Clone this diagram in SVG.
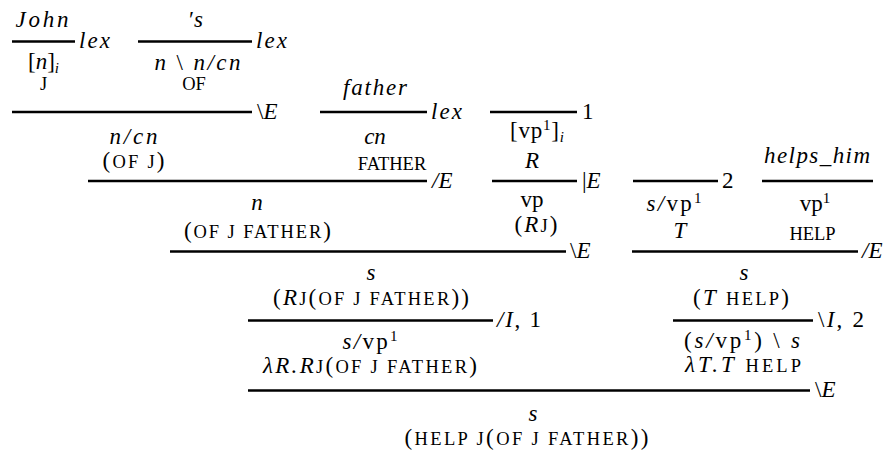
<svg xmlns="http://www.w3.org/2000/svg" width="896" height="456" viewBox="0 0 896 456">
<style>
text{font-family:"Liberation Serif","Times New Roman",serif;font-size:23px;fill:#000}
.i{font-style:italic}
.c{font-size:18.5px;font-style:normal}
.up{font-size:15px;baseline-shift:8px}
.dn{font-size:15px;font-style:italic;baseline-shift:-4px}
.mid{text-anchor:middle}
.rules line{stroke:#000;stroke-width:2.6}
</style>
<rect width="896" height="456" fill="#fff"/>
<g class="rules" id="connectors">
<line x1="12" y1="41.5" x2="75" y2="41.5"/>
<line x1="138" y1="41.5" x2="252" y2="41.5"/>
<line x1="12" y1="112" x2="252" y2="112"/>
<line x1="320" y1="112" x2="427" y2="112"/>
<line x1="490" y1="112" x2="577" y2="112"/>
<line x1="88" y1="181" x2="427" y2="181"/>
<line x1="492" y1="181" x2="577" y2="181"/>
<line x1="633" y1="181" x2="718" y2="181"/>
<line x1="762" y1="181" x2="873" y2="181"/>
<line x1="170" y1="251.5" x2="566" y2="251.5"/>
<line x1="632" y1="251.5" x2="858" y2="251.5"/>
<line x1="248" y1="320.5" x2="493" y2="320.5"/>
<line x1="673" y1="320.5" x2="813" y2="320.5"/>
<line x1="248" y1="390.5" x2="810" y2="390.5"/>
</g>
<g id="john">
<text class="i mid" x="42" y="27" textLength="53">John</text>
<text class="i" x="79" y="48" textLength="31">lex</text>
<text class="mid" x="43.5" y="69">[<tspan class="i">n</tspan>]<tspan class="dn">i</tspan></text>
<text class="c mid" x="43.5" y="90">J</text>
</g>
<g id="poss">
<text class="mid" x="196" y="27">′<tspan class="i">s</tspan></text>
<text class="i" x="256" y="48" textLength="31">lex</text>
<text class="mid" x="197.5" y="70" textLength="86"><tspan class="i">n</tspan> \ <tspan class="i">n/cn</tspan></text>
<text class="c mid" x="194" y="90">OF</text>
</g>
<g id="of-j">
<text x="257" y="119">\<tspan class="i">E</tspan></text>
<text class="i mid" x="133.5" y="144" textLength="48">n/cn</text>
<text class="mid" x="133.5" y="168" textLength="62">(<tspan class="c">OF J</tspan>)</text>
</g>
<g id="father">
<text class="i mid" x="375" y="95" textLength="64">father</text>
<text class="i" x="431" y="119" textLength="31">lex</text>
<text class="i mid" x="375" y="144">cn</text>
<text class="c mid" x="392" y="170">FATHER</text>
</g>
<g id="hyp1">
<text x="582" y="119">1</text>
<text class="mid" x="537" y="138" textLength="54">[vp<tspan class="up">1</tspan>]<tspan class="dn">i</tspan></text>
<text class="i mid" x="532" y="168">R</text>
</g>
<g id="of-j-father">
<text x="432" y="188"><tspan class="i">/E</tspan></text>
<text class="i mid" x="257" y="210">n</text>
<text class="mid" x="257.5" y="238" textLength="147">(<tspan class="c">OF J FATHER</tspan>)</text>
</g>
<g id="vp">
<text x="582" y="188">|<tspan class="i">E</tspan></text>
<text class="mid" x="532" y="207">vp</text>
<text class="mid" x="536" y="232" textLength="43">(<tspan class="i">R</tspan><tspan class="c">J</tspan>)</text>
</g>
<g id="hyp2">
<text x="722" y="188">2</text>
<text class="mid" x="674" y="211" textLength="55"><tspan class="i">s/</tspan>vp<tspan class="up">1</tspan></text>
<text class="i mid" x="680" y="238">T</text>
</g>
<g id="helps">
<text class="i mid" x="817" y="163" textLength="106">helps_him</text>
<text class="mid" x="815" y="211">vp<tspan class="up">1</tspan></text>
<text class="c mid" x="812.5" y="240">HELP</text>
</g>
<g id="s-left">
<text x="570" y="258">\<tspan class="i">E</tspan></text>
<text class="i mid" x="371" y="280">s</text>
<text class="mid" x="371" y="305" textLength="196">(<tspan class="i">R</tspan><tspan class="c">J</tspan>(<tspan class="c">OF J FATHER</tspan>))</text>
</g>
<g id="s-right">
<text x="862" y="258"><tspan class="i">/E</tspan></text>
<text class="i mid" x="744" y="280">s</text>
<text class="mid" x="741" y="305" textLength="96">(<tspan class="i">T</tspan> <tspan class="c">HELP</tspan>)</text>
</g>
<g id="abs1">
<text x="497" y="327" textLength="44"><tspan class="i">/I</tspan>, 1</text>
<text class="mid" x="370" y="349" textLength="55"><tspan class="i">s/</tspan>vp<tspan class="up">1</tspan></text>
<text class="mid" x="370" y="373" textLength="214"><tspan class="i">λR.R</tspan><tspan class="c">J</tspan>(<tspan class="c">OF J FATHER</tspan>)</text>
</g>
<g id="abs2">
<text x="818" y="327" textLength="46">\<tspan class="i">I</tspan>, 2</text>
<text class="mid" x="742" y="348" textLength="116">(<tspan class="i">s/</tspan>vp<tspan class="up">1</tspan>) \ <tspan class="i">s</tspan></text>
<text class="mid" x="743" y="372" textLength="116"><tspan class="i">λT.T</tspan> <tspan class="c">HELP</tspan></text>
</g>
<g id="result">
<text x="815" y="397">\<tspan class="i">E</tspan></text>
<text class="i mid" x="533" y="421">s</text>
<text class="mid" x="526.5" y="445" textLength="244">(<tspan class="c">HELP J</tspan>(<tspan class="c">OF J FATHER</tspan>))</text>
</g>
</svg>
